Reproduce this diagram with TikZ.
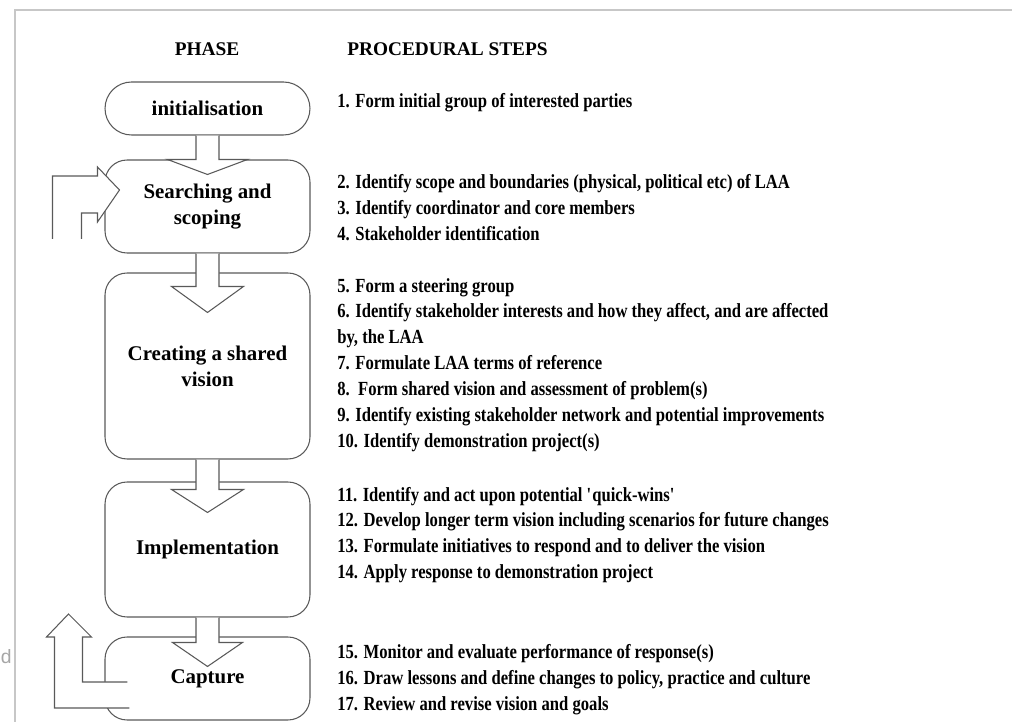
\documentclass[tikz,border=0pt]{standalone}
\usepackage{fontspec}
\setmainfont{Liberation Serif}
\setsansfont{Liberation Sans}
\newfontfamily\stepfont{Liberation Serif}[FakeStretch=0.83]
\usetikzlibrary{calc}
\newcommand{\phasearrow}[5]{%
  \draw[flowarrow] ($(#1.south)+(-11.5,0)$) -- ($(#2.north)+(-11.5,#3)$)
    -- ($(#2.north)+(-#5,#3)$) -- ($(#2.north)+(0,#3+#4)$)
    -- ($(#2.north)+(#5,#3)$) -- ($(#2.north)+(11.5,#3)$)
    -- ($(#1.south)+(11.5,0)$);
}
\tikzset{
  phase/.style={draw=black!65, line width=0.6pt, rounded corners=0.44cm,
    minimum width=4.1cm, align=center, text=black,
    font=\fontsize{11.9}{14.7}\selectfont\bfseries},
  header/.style={inner sep=0pt, font=\fontsize{11}{13}\selectfont\bfseries},
  steps/.style={anchor=west, align=left, inner sep=0pt,
    font=\stepfont\fontsize{11.4}{14.74}\selectfont\bfseries},
  flowarrow/.style={draw=black!65, line width=0.6pt, fill=white, line join=miter}
}

\begin{document}
\begin{tikzpicture}[x=0.02cm, y=-0.02cm]
\useasboundingbox (0,0) rectangle (1012,722);
\draw[black!22, line width=0.6pt] (1012,10) -| (15,722);
\node[anchor=west, inner sep=0pt, text=black!35,
  font=\sffamily\fontsize{11}{13}\selectfont] (cutd) at (0.5,657) {d};

% headings
\node[header] (phasehead) at (207,49) {PHASE};
\node[header, anchor=west] (stepshead) at (347,49) {PROCEDURAL STEPS};

% phases
\node[phase, minimum height=1.06cm, rounded corners=0.53cm] (init) at (207.5,108.5) {initialisation};
\node[phase, minimum height=1.86cm] (search) at (207.5,206.5) {Searching and\\scoping};
\node[phase, minimum height=3.72cm] (create) at (207.5,366) {Creating a shared\\vision};
\node[phase, minimum height=2.7cm] (impl) at (207.5,549.5) {Implementation};
\node[phase, minimum height=1.66cm] (capture) at (207.5,678.5) {Capture};

\phasearrow{init}{search}{0}{15}{40}
\phasearrow{search}{create}{14}{26}{36}
\phasearrow{create}{impl}{8}{23}{36}
\phasearrow{impl}{capture}{6}{24}{35}

% feedback loops
\draw[flowarrow] ($(search.west)+(-52,32.5)$) -- ++(0,-63) -- ++(45,0)
  -- ++(0,-9) -- ++(22,23) -- ++(-22,32) -- ++(0,-9) -- ++(-16,0) -- ++(0,26);
\draw[flowarrow] ($(capture.west)+(25,29.5)$) -- ++(-75,0) -- ++(0,-71)
  -- ++(-8,0) -- ++(22,-23) -- ++(23,23) -- ++(-9,0) -- ++(0,45) -- ++(45,0);

% procedural steps
\node[steps] (step1) at (337,103) {1. Form initial group of interested parties};
\node[steps] (step2) at (337,207.5) {2. Identify scope and boundaries (physical, political etc) of LAA\\
  3. Identify coordinator and core members\\
  4. Stakeholder identification};
\node[steps] (step5) at (337,365) {5. Form a steering group\\
  6. Identify stakeholder interests and how they affect, and are affected\\
  by, the LAA\\
  7. Formulate LAA terms of reference\\
  8.\ \ Form shared vision and assessment of problem(s)\\
  9. Identify existing stakeholder network and potential improvements\\
  10. Identify demonstration project(s)};
\node[steps] (step11) at (337,535) {11. Identify and act upon potential \textquotesingle quick-wins\textquotesingle\\
  12. Develop longer term vision including scenarios for future changes\\
  13. Formulate initiatives to respond and to deliver the vision\\
  14. Apply response to demonstration project};
\node[steps] (step15) at (337,680) {15. Monitor and evaluate performance of response(s)\\
  16. Draw lessons and define changes to policy, practice and culture\\
  17. Review and revise vision and goals};
\end{tikzpicture}
\end{document}
